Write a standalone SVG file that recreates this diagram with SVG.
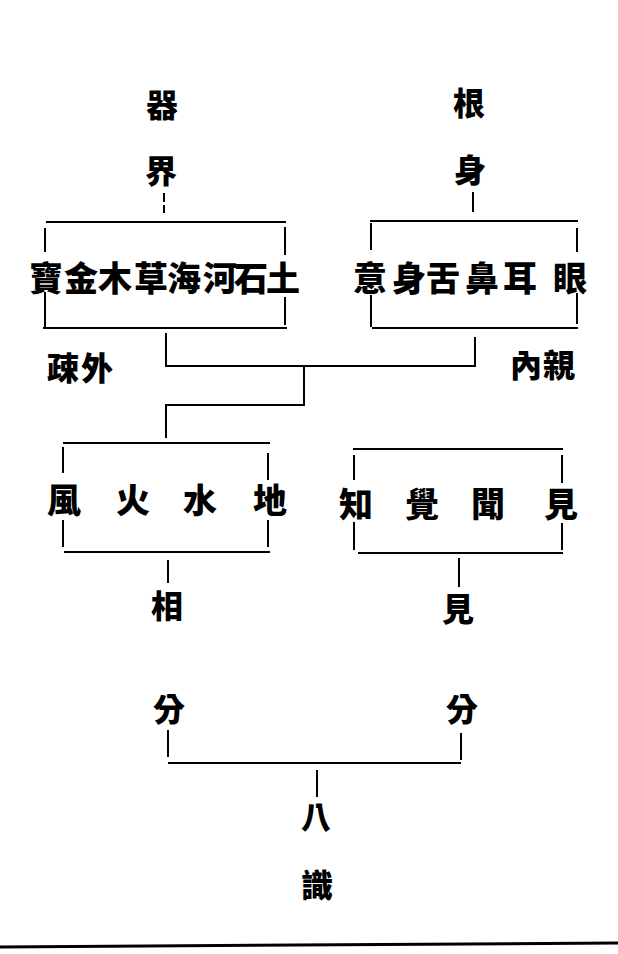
<svg xmlns="http://www.w3.org/2000/svg" width="618" height="954" viewBox="0 0 618 954">
<style>
text{font-family:"Noto Sans CJK TC","Noto Sans CJK SC",sans-serif;font-weight:900;fill:#000;text-anchor:middle;dominant-baseline:central}
.t{font-size:32px}
.b{font-size:34px}
line,path{stroke:#000;stroke-width:2;fill:none}
.rule{stroke-width:3}
</style>
<rect width="618" height="954" fill="#fff"/>
<g id="title-qijie">
<text class="t" x="162" y="103">器</text>
<text class="t" x="161" y="169">界</text>
</g>
<g id="title-genshen">
<text class="t" x="469" y="101">根</text>
<text class="t" x="470" y="168">身</text>
</g>
<g id="box-qijie">
<line x1="46" y1="222" x2="286" y2="222"/>
<line x1="45" y1="228" x2="45" y2="252"/>
<line x1="45" y1="292" x2="45" y2="328"/>
<line x1="285" y1="227" x2="285" y2="255"/>
<line x1="285" y1="297" x2="285" y2="325"/>
<line x1="43" y1="328" x2="287" y2="328"/>
<text class="b" x="46" y="276">寶</text>
<text class="b" x="81" y="276">金</text>
<text class="b" x="115" y="276">木</text>
<text class="b" x="151" y="276">草</text>
<text class="b" x="184" y="276">海</text>
<text class="b" x="220" y="276">河</text>
<text class="b" x="251" y="276">石</text>
<text class="b" x="283" y="276">土</text>
</g>
<g id="box-genshen">
<line x1="370" y1="221" x2="578" y2="221"/>
<line x1="371" y1="223" x2="371" y2="250"/>
<line x1="371" y1="295" x2="371" y2="327"/>
<line x1="577" y1="228" x2="577" y2="252"/>
<line x1="577" y1="293" x2="577" y2="324"/>
<line x1="372" y1="328" x2="578" y2="328"/>
<text class="b" x="370" y="276">意</text>
<text class="b" x="409" y="276">身</text>
<text class="b" x="443" y="276">舌</text>
<text class="b" x="482" y="276">鼻</text>
<text class="b" x="520" y="276">耳</text>
<text class="b" x="570" y="276">眼</text>
</g>
<g id="label-shuwai">
<text class="t" x="63" y="366">疎</text>
<text class="t" x="97" y="366">外</text>
</g>
<g id="label-neiqin">
<text class="t" x="526" y="363">內</text>
<text class="t" x="559" y="363">親</text>
</g>
<g id="box-sida">
<line x1="63" y1="443" x2="270" y2="443"/>
<line x1="63" y1="447" x2="63" y2="473"/>
<line x1="63" y1="520" x2="63" y2="547"/>
<line x1="268" y1="453" x2="268" y2="480"/>
<line x1="268" y1="520" x2="268" y2="547"/>
<line x1="64" y1="552" x2="270" y2="552"/>
<text class="b" x="64" y="498">風</text>
<text class="b" x="133" y="498">火</text>
<text class="b" x="200" y="498">水</text>
<text class="b" x="270" y="498">地</text>
</g>
<g id="box-jianwen">
<line x1="353" y1="449" x2="563" y2="449"/>
<line x1="354" y1="455" x2="354" y2="480"/>
<line x1="354" y1="522" x2="354" y2="550"/>
<line x1="562" y1="455" x2="562" y2="483"/>
<line x1="562" y1="523" x2="562" y2="550"/>
<line x1="358" y1="553" x2="563" y2="553"/>
<text class="b" x="356" y="502">知</text>
<text class="b" x="422" y="502">覺</text>
<text class="b" x="488" y="502">聞</text>
<text class="b" x="561" y="502">見</text>
</g>
<g id="label-xiang">
<text class="t" x="167" y="604">相</text>
<text class="t" x="169" y="707">分</text>
</g>
<g id="label-jian">
<text class="t" x="458" y="607">見</text>
<text class="t" x="462" y="707">分</text>
</g>
<g id="label-bashi">
<text class="t" x="316" y="815" style="font-size:30px">八</text>
<text class="t" x="317" y="883">識</text>
</g>
<g id="connectors">
<line x1="164" y1="193" x2="164" y2="202"/>
<line x1="164" y1="205" x2="164" y2="213"/>
<line x1="473" y1="192" x2="473" y2="212"/>
<path d="M166 333 V366 H475 V337"/>
<path d="M304 366 V405 H166 V438"/>
<line x1="168" y1="560" x2="168" y2="583"/>
<line x1="459" y1="558" x2="459" y2="587"/>
<line x1="168" y1="730" x2="168" y2="757"/>
<line x1="461" y1="733" x2="461" y2="760"/>
<line x1="168" y1="763" x2="461" y2="763"/>
<line x1="317" y1="770" x2="317" y2="797"/>
<line class="rule" x1="0" y1="947" x2="618" y2="943"/>
</g>
</svg>
